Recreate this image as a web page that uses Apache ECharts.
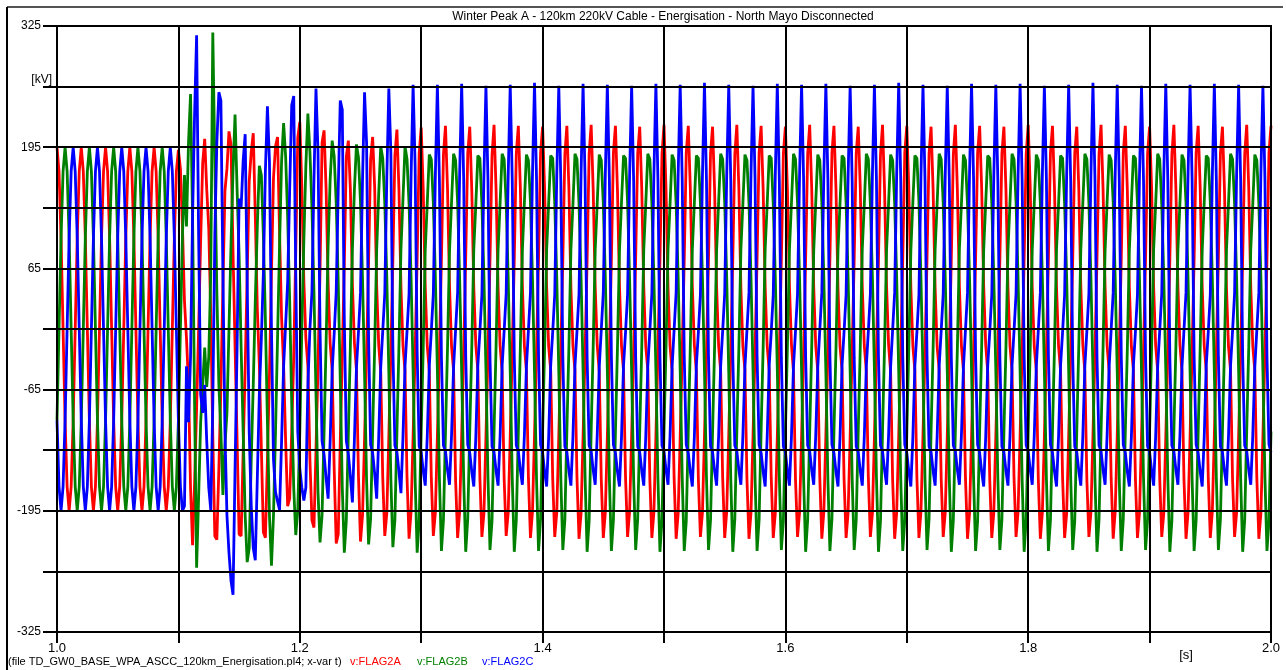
<!DOCTYPE html>
<html><head><meta charset="utf-8">
<script src="https://cdn.jsdelivr.net/npm/echarts@6/dist/echarts.min.js"></script>
<style>html,body{margin:0;padding:0;background:#fff}#c{width:1286px;height:670px}</style>
</head><body><div id="c"></div>
<script>
const TITLE = 'Winter Peak A - 120km 220kV Cable - Energisation - North Mayo Disconnected';
const FILE_TEXT = '(file TD_GW0_BASE_WPA_ASCC_120km_Energisation.pl4; x-var t)';
const SERIES_NAMES = ['v:FLAG2A', 'v:FLAG2B', 'v:FLAG2C'];
const Y_UNIT = '[kV]';
const X_UNIT = '[s]';
// sampling: 12 samples per 20 ms cycle, starting at t = 1.0 s
const T_START = 1.0;
const CYCLE = 0.02;
const SAMPLES_PER_CYCLE = 12;

// v:FLAG2A [kV], one row per cycle
const FLAG2A = [
195,169,98,0,-98,-169,-195,-169,-98,0,98,169,
195,169,98,0,-98,-169,-195,-169,-98,0,98,169,
195,169,98,0,-98,-169,-195,-169,-98,0,98,169,
195,169,98,0,-98,-169,-195,-169,-98,0,98,169,
195,169,98,0,-98,-169,-195,-169,-98,0,98,169,
192,172,110,30,-10,-60,-170,-232,-165,-85,0,95,
178,204,150,108,15,-115,-222,-226,-150,-62,45,148,
172,212,198,82,-18,-118,-220,-222,-132,-42,58,158,
190,210,122,22,-38,-128,-218,-224,-140,-50,60,162,
196,206,102,12,-40,-120,-190,-182,-110,-30,82,205,
222,152,52,-10,-40,-140,-205,-213,-130,-40,62,200,
213,150,50,-15,-45,-150,-230,-220,-120,-30,70,185,
202,150,48,-15,-44,-158,-228,-200,-118,-28,72,182,
206,152,46,-17,-46,-160,-222,-198,-116,-26,74,186,
214,150,45,-18,-45,-160,-225,-196,-115,-25,75,188,
216,150,45,-18,-45,-160,-222,-197,-115,-25,75,187,
218,151,46,-19,-44,-162,-224,-196,-114,-24,76,188,
217,149,44,-17,-45,-159,-223,-198,-116,-26,74,186,
219,150,45,-18,-46,-161,-222,-197,-115,-25,75,188,
218,152,47,-18,-45,-160,-224,-196,-114,-25,76,189,
217,150,45,-19,-44,-161,-223,-197,-115,-24,75,187,
218,151,44,-18,-45,-160,-225,-198,-116,-25,74,188,
219,150,45,-17,-46,-162,-224,-197,-115,-26,75,189,
218,149,46,-18,-45,-160,-223,-196,-114,-25,76,188,
217,151,45,-19,-44,-161,-224,-197,-115,-24,75,187,
219,150,44,-18,-45,-160,-225,-198,-116,-25,74,189,
218,152,46,-17,-46,-162,-223,-197,-115,-26,75,188,
217,150,45,-18,-45,-160,-224,-196,-114,-25,76,187,
219,151,44,-19,-44,-161,-225,-197,-115,-24,75,189,
218,150,45,-18,-45,-160,-224,-198,-116,-25,74,188,
217,149,46,-17,-46,-162,-223,-197,-115,-26,75,187,
219,151,45,-18,-45,-160,-225,-196,-114,-25,76,189,
218,150,44,-19,-44,-161,-224,-197,-115,-24,75,188,
217,152,45,-18,-45,-160,-223,-198,-116,-25,74,187,
219,150,46,-17,-46,-162,-225,-197,-115,-26,75,189,
218,151,45,-18,-45,-160,-224,-196,-114,-25,76,188,
217,150,44,-19,-44,-161,-223,-197,-115,-24,75,187,
219,149,45,-18,-45,-160,-225,-198,-116,-25,74,189,
218,151,46,-17,-46,-162,-224,-197,-115,-26,75,188,
217,150,45,-18,-45,-160,-223,-196,-114,-25,76,187,
219,152,44,-19,-44,-161,-225,-197,-115,-24,75,189,
218,150,45,-18,-45,-160,-224,-198,-116,-25,74,188,
217,151,46,-17,-46,-162,-223,-197,-115,-26,75,187,
219,150,45,-18,-45,-160,-225,-196,-114,-25,76,189,
218,149,44,-19,-44,-161,-224,-197,-115,-24,75,188,
217,151,45,-18,-45,-160,-223,-198,-116,-25,74,187,
219,150,46,-17,-46,-162,-225,-197,-115,-26,75,189,
218,152,45,-18,-45,-160,-224,-196,-114,-25,76,188,
217,150,44,-19,-44,-161,-223,-197,-115,-24,75,187,
219,151,45,-18,-45,-160,-225,-198,-116,-25,74,189,
218
];

// v:FLAG2B [kV]
const FLAG2B = [
-98,0,98,169,195,169,98,0,-98,-169,-195,-169,
-98,0,98,169,195,169,98,0,-98,-169,-195,-169,
-98,0,98,169,195,169,98,0,-98,-169,-195,-169,
-98,0,98,169,195,169,98,0,-98,-169,-195,-169,
-98,0,98,169,195,169,98,0,-98,-169,-195,-169,
-98,0,100,165,110,200,252,120,-80,-256,-180,-100,
-60,-20,-62,-30,60,318,180,40,-60,-110,-178,-125,
-90,0,90,170,230,150,80,-20,-110,-200,-250,-235,
-140,-60,30,110,175,165,100,10,-100,-200,-254,-200,
-110,-10,90,180,221,185,120,30,-80,-170,-221,-195,
-110,0,95,175,231,190,130,40,-70,-175,-229,-200,
-110,-15,90,160,202,185,135,50,-55,-170,-240,-205,
-112,-18,86,150,198,184,136,54,-48,-162,-231,-204,
-110,-20,85,145,196,183,135,55,-46,-160,-234,-205,
-111,-19,86,140,196,182,134,55,-45,-161,-240,-206,
-110,-20,85,135,187,182,135,55,-45,-160,-238,-205,
-111,-21,84,136,188,181,136,54,-46,-161,-239,-204,
-109,-20,86,134,186,183,134,56,-44,-159,-237,-206,
-110,-19,85,135,188,182,135,55,-45,-160,-239,-205,
-111,-20,84,136,187,181,136,54,-46,-161,-238,-204,
-110,-21,85,135,186,183,135,55,-45,-160,-237,-205,
-109,-20,86,134,188,182,134,56,-44,-159,-239,-206,
-110,-19,85,135,187,181,135,55,-45,-160,-238,-205,
-111,-20,84,136,186,183,136,54,-46,-161,-237,-204,
-110,-21,85,135,188,182,135,55,-45,-160,-239,-205,
-109,-20,86,134,187,181,134,56,-44,-159,-238,-206,
-110,-19,85,135,186,183,135,55,-45,-160,-237,-205,
-111,-20,84,136,188,182,136,54,-46,-161,-239,-204,
-110,-21,85,135,187,181,135,55,-45,-160,-238,-205,
-109,-20,86,134,186,183,134,56,-44,-159,-237,-206,
-110,-19,85,135,188,182,135,55,-45,-160,-239,-205,
-111,-20,84,136,187,181,136,54,-46,-161,-238,-204,
-110,-21,85,135,186,183,135,55,-45,-160,-237,-205,
-109,-20,86,134,188,182,134,56,-44,-159,-239,-206,
-110,-19,85,135,187,181,135,55,-45,-160,-238,-205,
-111,-20,84,136,186,183,136,54,-46,-161,-237,-204,
-110,-21,85,135,188,182,135,55,-45,-160,-239,-205,
-109,-20,86,134,187,181,134,56,-44,-159,-238,-206,
-110,-19,85,135,186,183,135,55,-45,-160,-237,-205,
-111,-20,84,136,188,182,136,54,-46,-161,-239,-204,
-110,-21,85,135,187,181,135,55,-45,-160,-238,-205,
-109,-20,86,134,186,183,134,56,-44,-159,-237,-206,
-110,-19,85,135,188,182,135,55,-45,-160,-239,-205,
-111,-20,84,136,187,181,136,54,-46,-161,-238,-204,
-110,-21,85,135,186,183,135,55,-45,-160,-237,-205,
-109,-20,86,134,188,182,134,56,-44,-159,-239,-206,
-110,-19,85,135,187,181,135,55,-45,-160,-238,-205,
-111,-20,84,136,186,183,136,54,-46,-161,-237,-204,
-110,-21,85,135,188,182,135,55,-45,-160,-239,-205,
-109,-20,86,134,187,181,134,56,-44,-159,-238,-206,
-110
];

// v:FLAG2C [kV]
const FLAG2C = [
-98,-169,-195,-169,-98,0,98,169,195,169,98,0,
-98,-169,-195,-169,-98,0,98,169,195,169,98,0,
-98,-169,-195,-169,-98,0,98,169,195,169,98,0,
-98,-169,-195,-169,-98,0,98,169,195,169,98,0,
-98,-169,-195,-169,-98,0,98,169,195,169,98,0,
-98,-169,-195,-190,-40,-100,-30,120,230,315,100,-70,
-90,-60,-120,-170,-194,-80,100,200,254,245,60,-110,
-200,-240,-270,-285,-150,-20,140,130,180,209,50,-110,
-190,-235,-248,-160,-70,-10,60,170,239,180,0,-140,
-175,-185,-194,-120,-40,5,50,150,240,250,60,-110,
-150,-170,-184,-170,-60,0,40,160,258,190,0,-120,
-135,-160,-182,-120,-45,-5,40,150,245,235,10,-120,
-134,-158,-186,-118,-42,-3,39,160,254,200,-10,-124,
-133,-155,-182,-116,-41,-2,38,162,258,190,-20,-125,
-132,-153,-176,-115,-40,-2,38,164,262,175,-25,-126,
-132,-152,-168,-115,-40,-2,38,165,262,160,-30,-125,
-131,-151,-167,-114,-41,-1,39,166,263,161,-29,-124,
-133,-153,-169,-116,-39,-3,37,164,261,159,-31,-126,
-132,-152,-168,-115,-40,-2,38,165,262,160,-30,-125,
-131,-151,-167,-114,-41,-1,39,166,264,161,-29,-124,
-133,-153,-169,-116,-39,-3,37,164,261,159,-31,-126,
-132,-152,-168,-115,-40,-2,38,165,263,160,-30,-125,
-131,-151,-167,-114,-41,-1,39,166,262,161,-29,-124,
-133,-153,-169,-116,-39,-3,37,164,261,159,-31,-126,
-132,-152,-168,-115,-40,-2,38,165,263,160,-30,-125,
-131,-151,-167,-114,-41,-1,39,166,262,161,-29,-124,
-133,-153,-169,-116,-39,-3,37,164,264,159,-31,-126,
-132,-152,-168,-115,-40,-2,38,165,262,160,-30,-125,
-131,-151,-167,-114,-41,-1,39,166,261,161,-29,-124,
-133,-153,-169,-116,-39,-3,37,164,263,159,-31,-126,
-132,-152,-168,-115,-40,-2,38,165,262,160,-30,-125,
-131,-151,-167,-114,-41,-1,39,166,263,161,-29,-124,
-133,-153,-169,-116,-39,-3,37,164,261,159,-31,-126,
-132,-152,-168,-115,-40,-2,38,165,262,160,-30,-125,
-131,-151,-167,-114,-41,-1,39,166,264,161,-29,-124,
-133,-153,-169,-116,-39,-3,37,164,262,159,-31,-126,
-132,-152,-168,-115,-40,-2,38,165,261,160,-30,-125,
-131,-151,-167,-114,-41,-1,39,166,263,161,-29,-124,
-133,-153,-169,-116,-39,-3,37,164,262,159,-31,-126,
-132,-152,-168,-115,-40,-2,38,165,263,160,-30,-125,
-131,-151,-167,-114,-41,-1,39,166,261,161,-29,-124,
-133,-153,-169,-116,-39,-3,37,164,262,159,-31,-126,
-132,-152,-168,-115,-40,-2,38,165,264,160,-30,-125,
-131,-151,-167,-114,-41,-1,39,166,262,161,-29,-124,
-133,-153,-169,-116,-39,-3,37,164,261,159,-31,-126,
-132,-152,-168,-115,-40,-2,38,165,263,160,-30,-125,
-131,-151,-167,-114,-41,-1,39,166,262,161,-29,-124,
-133,-153,-169,-116,-39,-3,37,164,263,159,-31,-126,
-132,-152,-168,-115,-40,-2,38,165,262,160,-30,-125,
-131,-151,-167,-114,-41,-1,39,166,261,161,-29,-124,
-132
];

const COLORS = ['#ff0000', '#008000', '#0000ff'];
const FONT = '"Liberation Sans", Arial, sans-serif';

function toPairs(arr) {
  const dt = CYCLE / SAMPLES_PER_CYCLE;
  return arr.map((v, i) => [T_START + i * dt, v]);
}

const chart = echarts.init(document.getElementById('c'), null, { renderer: 'canvas' });
const seriesData = [FLAG2A, FLAG2B, FLAG2C];

chart.setOption({
  animation: false,
  backgroundColor: '#ffffff',
  grid: { left: 57, right: 15, top: 26, bottom: 38, show: true, borderColor: '#000', borderWidth: 2, backgroundColor: 'transparent' },
  xAxis: {
    type: 'value', min: 1.0, max: 2.0, interval: 0.1, z: 10,
    axisLine: { show: true, onZero: false, lineStyle: { color: '#000', width: 2 } },
    axisTick: { show: true, length: 11, lineStyle: { color: '#000', width: 2 } },
    splitLine: { show: true, lineStyle: { color: '#000', width: 2 } },
    axisLabel: {
      margin: 10, color: '#000', fontSize: 13, fontFamily: FONT,
      formatter: v => { const n = Math.round(v * 10); return n % 2 === 0 ? (n / 10).toFixed(1) : ''; }
    }
  },
  yAxis: {
    type: 'value', min: -325, max: 325, interval: 65, z: 10,
    axisLine: { show: true, onZero: false, lineStyle: { color: '#000', width: 2 } },
    axisTick: { show: true, length: 14, lineStyle: { color: '#000', width: 2 } },
    splitLine: { show: true, lineStyle: { color: '#000', width: 2 } },
    axisLabel: {
      margin: 16, color: '#000', fontSize: 12, fontFamily: FONT,
      formatter: v => (Math.round(v / 65) % 2 !== 0 ? String(v) : '')
    }
  },
  series: seriesData.map((arr, i) => ({
    name: SERIES_NAMES[i], type: 'line', data: toPairs(arr),
    showSymbol: false, symbol: 'none', z: 2, clip: true,
    lineStyle: { color: COLORS[i], width: 2.8 },
    itemStyle: { color: COLORS[i] }
  })),
  graphic: [
    { type: 'line', z: 20, shape: { x1: 7, y1: 7, x2: 1283, y2: 7 }, style: { stroke: '#555', lineWidth: 2 } },
    { type: 'line', z: 20, shape: { x1: 7, y1: 7, x2: 7, y2: 670 }, style: { stroke: '#000', lineWidth: 2 } },
    { type: 'text', z: 20, style: { text: TITLE, x: 663, y: 17, textAlign: 'center', textVerticalAlign: 'middle', align: 'center', verticalAlign: 'middle', font: '12px ' + FONT, fill: '#000' } },
    { type: 'text', z: 20, style: { text: Y_UNIT, x: 52, y: 80, textAlign: 'right', textVerticalAlign: 'middle', align: 'right', verticalAlign: 'middle', font: '12px ' + FONT, fill: '#000' } },
    { type: 'text', z: 20, style: { text: X_UNIT, x: 1186, y: 655, textAlign: 'center', textVerticalAlign: 'middle', align: 'center', verticalAlign: 'middle', font: '13px ' + FONT, fill: '#000' } },
    { type: 'text', z: 20, style: { text: FILE_TEXT, x: 8, y: 662, textAlign: 'left', textVerticalAlign: 'middle', align: 'left', verticalAlign: 'middle', font: '11px ' + FONT, fill: '#000' } },
    { type: 'text', z: 20, style: { text: SERIES_NAMES[0], x: 350, y: 662, textAlign: 'left', textVerticalAlign: 'middle', align: 'left', verticalAlign: 'middle', font: '11px ' + FONT, fill: COLORS[0] } },
    { type: 'text', z: 20, style: { text: SERIES_NAMES[1], x: 417, y: 662, textAlign: 'left', textVerticalAlign: 'middle', align: 'left', verticalAlign: 'middle', font: '11px ' + FONT, fill: COLORS[1] } },
    { type: 'text', z: 20, style: { text: SERIES_NAMES[2], x: 482, y: 662, textAlign: 'left', textVerticalAlign: 'middle', align: 'left', verticalAlign: 'middle', font: '11px ' + FONT, fill: COLORS[2] } }
  ]
});
</script>
</body></html>
